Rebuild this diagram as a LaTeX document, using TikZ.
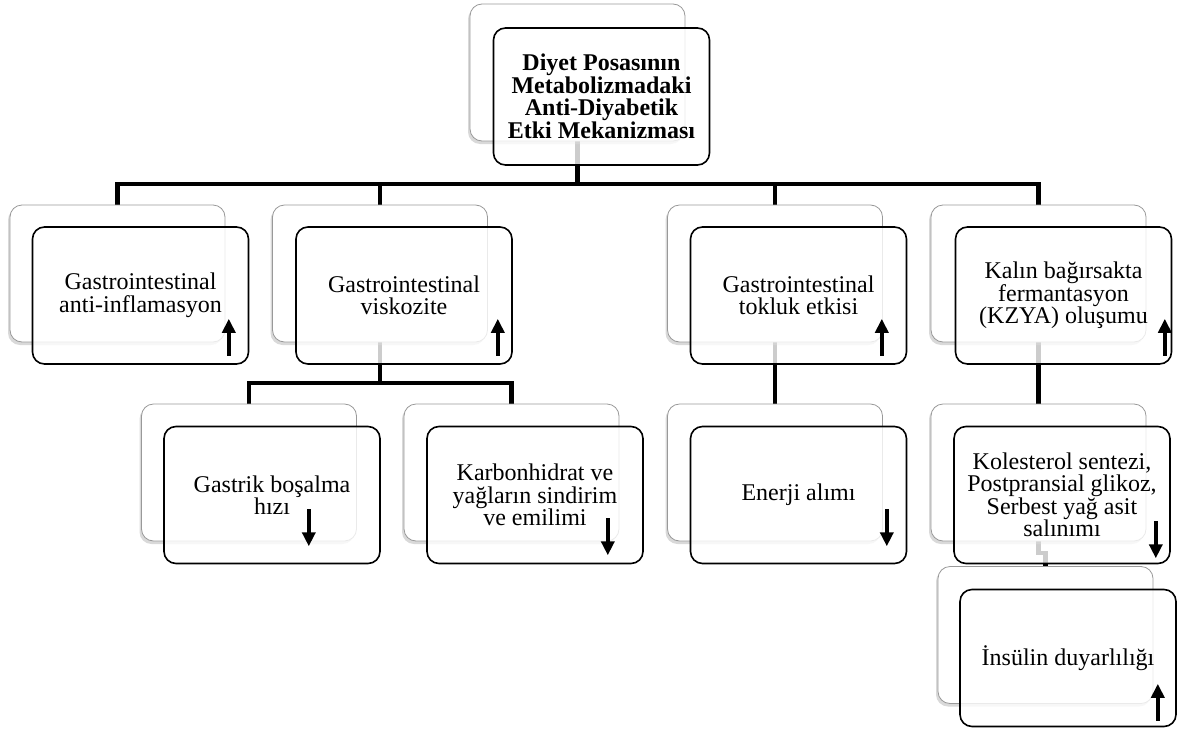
\documentclass[tikz,border=0pt]{standalone}
\usepackage{fontspec}
\setmainfont{Liberation Serif}
\usetikzlibrary{arrows.meta,shadows,backgrounds}

\begin{document}
\begin{tikzpicture}[
  x=1pt, y=-1pt,
  back/.style={draw=black!40, line width=0.8pt, rounded corners=12pt, fill=white,
               minimum width=215pt, minimum height=137pt, inner sep=0pt,
               drop shadow={shadow xshift=-2pt, shadow yshift=-3pt, opacity=0.3}},
  front/.style={draw=black, line width=1.6pt, rounded corners=12pt,
               fill=white, fill opacity=0.8, text opacity=1,
               minimum width=216pt, minimum height=137pt, inner sep=0pt,
               align=center, font=\fontsize{24}{22.5}\selectfont},
  conn/.style={line width=4.5pt, black},
  uparr/.style={line width=4pt, -{Triangle[length=14pt,width=13pt]}},
]
\useasboundingbox (0,0) rectangle (1177,728);

% top
\node[back]  (topb) at (577.5,72.5) {};
\node[front] (topf) at (601.5,96.5)
  {\bfseries Diyet Posasının\\\bfseries Metabolizmadaki\\\bfseries Anti-Diyabetik\\\bfseries Etki Mekanizması};

% first level
\node[back]  (Ab) at (117.5,273.5) {};
\node[front] (Af) at (140.5,295.5) {Gastrointestinal\\anti-inflamasyon};
\node[back]  (Bb) at (380,273.5)   {};
\node[front] (Bf) at (404,295.5)   {Gastrointestinal\\viskozite};
\node[back]  (Cb) at (775,273.5)   {};
\node[front] (Cf) at (798.5,295.5) {Gastrointestinal\\tokluk etkisi};
\node[back]  (Db) at (1038.5,273.5) {};
\node[front] (Df) at (1063.5,295.5) {Kalın bağırsakta\\fermantasyon\\(KZYA) oluşumu};

% second level
\node[back]  (B1b) at (249,472.5)   {};
\node[front] (B1f) at (272,495)     {Gastrik boşalma\\hızı};
\node[back]  (B2b) at (511.5,472.5) {};
\node[front] (B2f) at (535,495)     {Karbonhidrat ve\\yağların sindirim\\ve emilimi};
\node[back]  (C1b) at (775,472.5)   {};
\node[front] (C1f) at (798.5,495)   {Enerji alımı};
\node[back]  (D1b) at (1038.5,472.5) {};
\node[front] (D1f) at (1062,495)    {Kolesterol sentezi,\\Postpransial glikoz,\\Serbest yağ asit\\salınımı};

% third level
\node[back]  (D2b) at (1045.5,635) {};
\node[front] (D2f) at (1068,658)   {İnsülin duyarlılığı};

% connectors
\begin{scope}[on background layer]
\coordinate (j0) at (577.5,184);
\coordinate (j1) at (380,383);
\coordinate (j2) at (1038.5,553);
\draw[conn] (topb.south) -- (j0) -| (Ab.north);
\draw[conn] (topb.south) -- (j0) -| (Bb.north);
\draw[conn] (topb.south) -- (j0) -| (Cb.north);
\draw[conn] (topb.south) -- (j0) -| (Db.north);
\draw[conn] (Bb.south) -- (j1) -| (B1b.north);
\draw[conn] (Bb.south) -- (j1) -| (B2b.north);
\draw[conn] (Cb.south) -- (C1b.north);
\draw[conn] (Db.south) -- (D1b.north);
\draw[conn] (D1b.south) -- (j2) -| (D2b.north);
\end{scope}

% up / down arrows
\draw[uparr] ([shift={(-20.5,-9)}]Af.south east) -- ++(0,-37);
\draw[uparr] ([shift={(-15,-9)}]Bf.south east) -- ++(0,-37);
\draw[uparr] ([shift={(-25.5,-9)}]Cf.south east) -- ++(0,-37);
\draw[uparr] ([shift={(-7.5,-9)}]Df.south east) -- ++(0,-37);
\draw[uparr] ([shift={(-72,-55)}]B1f.south east) -- ++(0,37);
\draw[uparr] ([shift={(-36,-46)}]B2f.south east) -- ++(0,37);
\draw[uparr] ([shift={(-20.5,-55)}]C1f.south east) -- ++(0,37);
\draw[uparr] ([shift={(-15,-43)}]D1f.south east) -- ++(0,37);
\draw[uparr] ([shift={(-19,-6.5)}]D2f.south east) -- ++(0,-37);
\end{tikzpicture}
\end{document}
